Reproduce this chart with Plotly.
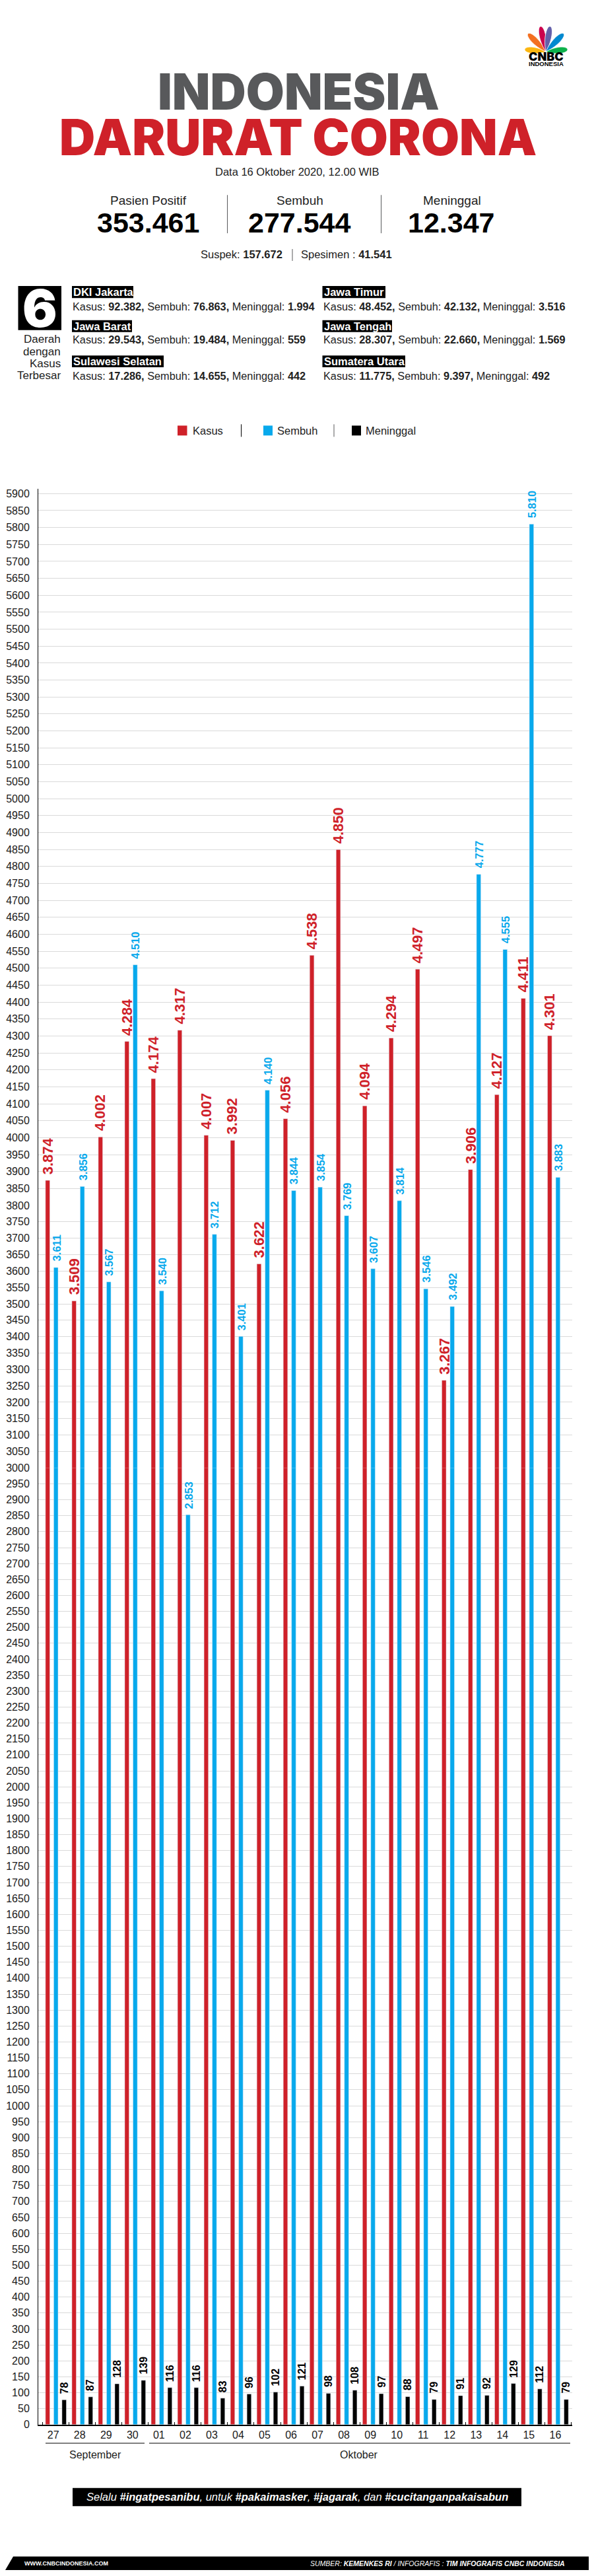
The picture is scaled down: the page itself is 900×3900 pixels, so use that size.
import plotly.graph_objects as go
from plotly.subplots import make_subplots

days = ['27', '28', '29', '30', '01', '02', '03', '04', '05', '06',
        '07', '08', '09', '10', '11', '12', '13', '14', '15', '16']
kasus = [3874, 3509, 4002, 4284, 4174, 4317, 4007, 3992, 3622, 4056,
         4538, 4850, 4094, 4294, 4497, 3267, 3906, 4127, 4411, 4301]
sembuh = [3611, 3856, 3567, 4510, 3540, 2853, 3712, 3401, 4140, 3844,
          3854, 3769, 3607, 3814, 3546, 3492, 4777, 4555, 5810, 3883]
meninggal = [78, 87, 128, 139, 116, 116, 83, 96, 102, 121,
             98, 108, 97, 88, 79, 91, 92, 129, 112, 79]

y_ticks = list(range(0, 5901, 50))

stat_labels = ['Pasien Positif', 'Sembuh', 'Meninggal']
stat_values = ['353.461', '277.544', '12.347']

region_names = ['DKI Jakarta', 'Jawa Barat', 'Sulawesi Selatan',
                'Jawa Timur', 'Jawa Tengah', 'Sumatera Utara']
region_lines = [
    ('92.382,', '76.863,', '1.994'),
    ('29.543,', '19.484,', '559'),
    ('17.286,', '14.655,', '442'),
    ('48.452,', '42.132,', '3.516'),
    ('28.307,', '22.660,', '1.569'),
    ('11.775,', '9.397,', '492'),
]

RED = '#CF2129'
BLUE = '#08A9EC'
GREY = '#58595B'
# the page has the browser's 8px body margin, pixel rows below are page pixels
PAGE_W, PAGE_H, BODY_MARGIN = 900, 3900, 8
W, H = PAGE_W - BODY_MARGIN, PAGE_H - BODY_MARGIN
BODY = 'Liberation Sans'
HEAVY = 'Inter'

# the printed y scale is not quite even, so it is split in three panels:
# (low value, high value, pixel row of low, pixel row of high)
panels = [(3800, 5914, 1828.7, 741), (3000, 3800, 2227, 1828.7), (0, 3000, 3679.3, 2227)]


def fx(px):
    return (px - BODY_MARGIN) / W


def fy(py):
    return 1 - (py - BODY_MARGIN) / H


fig = make_subplots(rows=3, cols=1, shared_xaxes=True, vertical_spacing=0)
for row, (lo, hi, py_lo, py_hi) in enumerate(panels, start=1):
    fig.add_trace(go.Bar(x=days, y=kasus, name='Kasus', marker_color=RED), row=row, col=1)
    fig.add_trace(go.Bar(x=days, y=sembuh, name='Sembuh', marker_color=BLUE), row=row, col=1)
    fig.add_trace(go.Bar(x=days, y=meninggal, name='Meninggal', marker_color='black'), row=row, col=1)
    fig.update_yaxes(
        row=row, col=1, range=[lo, hi], domain=[fy(py_lo), fy(py_hi)],
        tickvals=[t for t in y_ticks if (lo <= t < hi) or t == 5900],
        tickfont=dict(family=BODY, size=16, color='#1a1a1a'),
        ticks='outside', ticklen=9, tickcolor='rgba(0,0,0,0)',
        showgrid=True, gridcolor='#DADADA', gridwidth=1.3, zeroline=False,
        showline=True, linecolor='black', linewidth=1)
    fig.update_xaxes(row=row, col=1, type='category', range=[-0.667, 19.54],
                     domain=[fx(58), fx(867)], showgrid=False, zeroline=False)

fig.update_xaxes(row=3, col=1, showline=True, linecolor='black', linewidth=1.5,
                 ticks='inside', tickson='boundaries', ticklen=4, tickcolor='black',
                 ticklabelshift=-4, tickfont=dict(family=BODY, size=16, color='#1a1a1a'))

annotations = []
shapes = []


def note(px, py, text, size, color='black', family=BODY, anchor='center', weight=None, **kw):
    font = dict(family=family, size=size, color=color)
    if weight:
        font['weight'] = weight
    annotations.append(dict(xref='paper', yref='paper', x=fx(px), y=fy(py), text=text, showarrow=False,
                            xanchor=anchor, yanchor='middle', borderpad=0, font=font, **kw))


def rect(x0, y0, x1, y1, color):
    shapes.append(dict(type='rect', xref='paper', yref='paper', x0=fx(x0), x1=fx(x1), y0=fy(y0), y1=fy(y1),
                       fillcolor=color, line_width=0, layer='below'))


def vline(x, y0, y1, color=GREY, width=1):
    shapes.append(dict(type='line', xref='paper', yref='paper', x0=fx(x), x1=fx(x), y0=fy(y0), y1=fy(y1),
                       line=dict(color=color, width=width)))


def hline(x0, x1, y, color='black', width=1):
    shapes.append(dict(type='line', xref='paper', yref='paper', x0=fx(x0), x1=fx(x1), y0=fy(y), y1=fy(y),
                       line=dict(color=color, width=width)))


def yref_for(value):
    for row, (lo, hi, _, _) in enumerate(panels, start=1):
        if lo <= value < hi:
            return 'y' if row == 1 else 'y%d' % row


# rotated value labels above the bars
series_labels = [(kasus, -0.3125, RED, 22), (sembuh, 0.02, BLUE, 16.5), (meninggal, 0.3125, 'black', 16)]
for values, offset, color, size in series_labels:
    for i, v in enumerate(values):
        label = '{:,}'.format(v).replace(',', '.')
        annotations.append(dict(xref='x3', yref=yref_for(v), x=i + offset, y=v, text='<b>%s</b>' % label,
                                showarrow=False, textangle=-90, xanchor='center', yanchor='bottom',
                                yshift=8, borderpad=0,
                                font=dict(family=BODY, size=size, color=color)))

# header
note(452, 137, 'INDONESIA', 75, GREY, HEAVY, weight=900, height=68)
note(451, 207, 'DARURAT CORONA', 75, RED, HEAVY, weight=900, height=68)
note(450, 260, 'Data 16 Oktober 2020, 12.00 WIB', 16.5, '#222222')

for cx, lab, val in zip([225, 455, 685], stat_labels, stat_values):
    note(cx, 303, lab, 19, '#222222')
    note(cx - 1, 337, '<b>%s</b>' % val, 43, 'black')
vline(344.5, 295, 353)
vline(577.5, 295, 353)

note(429, 385, 'Suspek: <b>157.672</b>', 16.5, '#222222', anchor='right')
vline(443, 377, 395)
note(454.5, 385, 'Spesimen : <b>41.541</b>', 16.5, '#222222', anchor='left')

# six provinces
rect(27.5, 433, 93, 500, 'black')
note(60, 466.5, '6', 78, 'white', HEAVY, weight=900, height=66)
for py, word in zip([514, 532.5, 550.5, 568.5], ['Daerah', 'dengan', 'Kasus', 'Terbesar']):
    note(93, py, word, 17, '#222222', anchor='right')

name_boxes = [(109, 202, 433, 451.5), (109, 200, 485, 503), (109, 248, 538.5, 556.5),
              (488.5, 584, 433, 451.5), (488.5, 594, 485, 503), (488.5, 614, 538.5, 556.5)]
line_rows = [464, 514, 569, 464, 514, 569]
for name, box, row_y, vals in zip(region_names, name_boxes, line_rows, region_lines):
    x0, x1, y0, y1 = box
    rect(x0, y0, x1, y1, 'black')
    note(x0 + 1, (y0 + y1) / 2, '<b>%s</b>' % name, 16.5, 'white', anchor='left')
    note(x0, row_y, 'Kasus: <b>%s</b> Sembuh: <b>%s</b> Meninggal: <b>%s</b>' % vals, 16.3, '#222222',
         anchor='left')

# legend
rect(269, 645, 283.5, 660, RED)
note(291, 653, 'Kasus', 16.5, '#222222', anchor='left')
vline(365.5, 643, 662, 'black')
rect(399, 645, 413, 660, BLUE)
note(419, 653, 'Sembuh', 16.5, '#222222', anchor='left')
vline(506, 643, 662)
rect(533, 645, 547, 660, 'black')
note(553, 653, 'Meninggal', 16.5, '#222222', anchor='left')

# month brackets under the axis
hline(69, 219, 3707.5)
hline(226, 864, 3707.5)
note(144, 3725, 'September', 16, '#222222')
note(544, 3725, 'Oktober', 16, '#222222')

# campaign banner
rect(110, 3775.5, 790, 3803, 'black')
note(450.5, 3789,
     '<i>Selalu <b>#ingatpesanibu</b>, untuk <b>#pakaimasker</b>, <b>#jagarak</b>, '
     'dan <b>#cucitanganpakaisabun</b></i>', 16.5, 'white')

# footer strip
shapes.append(dict(type='path', xref='paper', yref='paper', fillcolor='black', line_width=0, layer='below',
                   path='M %f %f L %f %f L %f %f L %f %f Z' % (fx(8), fy(3900), fx(20), fy(3879.5),
                                                               fx(900), fy(3879.5), fx(900), fy(3900))))
note(36, 3890, '<b>WWW.CNBCINDONESIA.COM</b>', 9, 'white', anchor='left')
note(856.5, 3890, '<i>SUMBER: <b>KEMENKES RI</b> / INFOGRAFIS : <b>TIM INFOGRAFIS CNBC INDONESIA</b></i>',
     10.5, 'white', anchor='right')

# logo
feathers = [('#FCB711', 795, 74), ('#F37021', 800, 50), ('#CC004C', 819, 39),
            ('#6460AA', 833.5, 39), ('#0089D0', 854, 50), ('#0DB14B', 860, 74)]
for color, tx, ty in feathers:
    bx, by = 827, 77.5
    dx, dy = tx - bx, ty - by
    length = (dx ** 2 + dy ** 2) ** 0.5
    nx, ny = -dy / length * 7.5, dx / length * 7.5
    pts = [(bx, by), (bx + dx * 0.5 + nx, by + dy * 0.5 + ny), (tx + nx * 0.7, ty + ny * 0.7), (tx, ty),
           (tx - nx * 0.7, ty - ny * 0.7), (bx + dx * 0.5 - nx, by + dy * 0.5 - ny), (bx, by)]
    coords = ['%f %f' % (fx(a), fy(b)) for a, b in pts]
    path = 'M %s C %s, %s, %s C %s, %s, %s Z' % tuple(coords)
    shapes.append(dict(type='path', xref='paper', yref='paper', path=path, fillcolor=color,
                       line=dict(color='white', width=0.8)))
note(827.5, 85, 'CNBC', 18, 'black', HEAVY, weight=900)
note(827, 95.5, '<b>INDONESIA</b>', 9.5, 'black')

fig.update_layout(
    width=W, height=H, margin=dict(l=0, r=0, t=0, b=0), autosize=False,
    plot_bgcolor='white', paper_bgcolor='white', showlegend=False,
    barmode='group', bargap=0.0625, bargroupgap=0.47,
    annotations=annotations, shapes=shapes,
    font=dict(family=BODY),
)

fig.write_html("out.html")
